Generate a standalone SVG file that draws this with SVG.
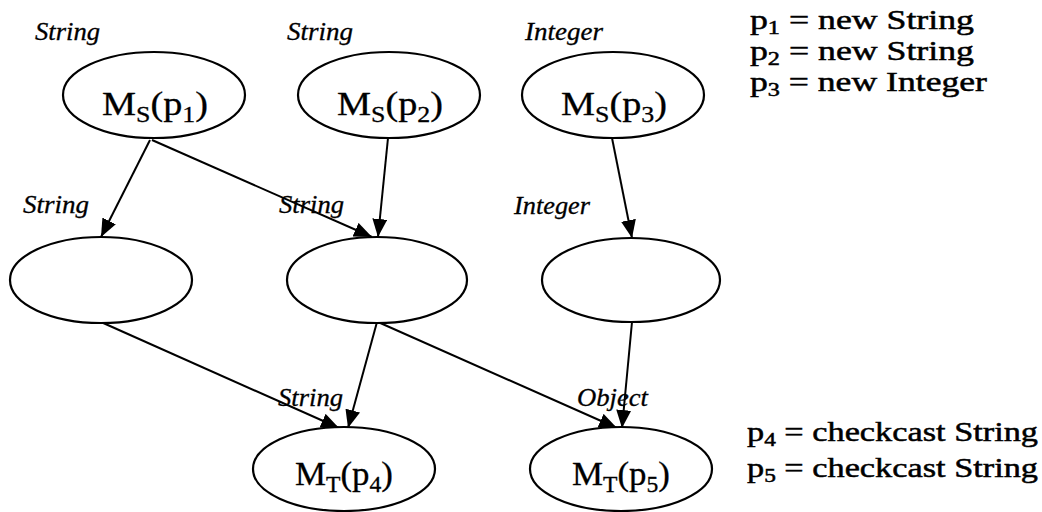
<svg xmlns="http://www.w3.org/2000/svg" width="1042" height="512" viewBox="0 0 1042 512">
<style>
.node ellipse{fill:#fff;stroke:#000;stroke-width:2.2}
.lbl{font-family:"Liberation Serif","Times New Roman",serif;font-style:italic;font-size:25px;fill:#000;stroke:#000;stroke-width:0.3}
.nt{font-family:"Liberation Serif","Times New Roman",serif;font-size:34px;fill:#000;stroke:#000;stroke-width:0.3}
.sub{font-size:23px}
.rt{font-family:"Liberation Serif","Times New Roman",serif;font-size:28px;fill:#000;stroke:#000;stroke-width:0.5}
.rsub{font-size:19px}
.edges line{stroke:#000;stroke-width:2;fill:none}
</style>
<defs>
<marker id="ah" markerUnits="userSpaceOnUse" markerWidth="19" markerHeight="16" refX="18" refY="7.5" orient="auto">
<path d="M0,0 L18,7.5 L0,15 Z" fill="#000"/>
</marker>
</defs>
<rect width="1042" height="512" fill="#fff"/>
<g class="edges">
<line x1="150" y1="140" x2="101" y2="237" marker-end="url(#ah)"/>
<line x1="152" y1="140" x2="372" y2="237" marker-end="url(#ah)"/>
<line x1="388" y1="138" x2="378" y2="237" marker-end="url(#ah)"/>
<line x1="612" y1="138" x2="632" y2="238" marker-end="url(#ah)"/>
<line x1="101" y1="322" x2="339" y2="428" marker-end="url(#ah)"/>
<line x1="377" y1="322" x2="348" y2="428" marker-end="url(#ah)"/>
<line x1="378" y1="322" x2="617" y2="428" marker-end="url(#ah)"/>
<line x1="632" y1="322" x2="622" y2="428" marker-end="url(#ah)"/>
</g>
<g id="ms1" class="node"><ellipse cx="154" cy="95" rx="91" ry="43"/><text class="nt" x="102" y="115" textLength="106" lengthAdjust="spacingAndGlyphs">M<tspan class="sub" dy="7">S</tspan><tspan dy="-7">(p</tspan><tspan class="sub" dy="7">1</tspan><tspan dy="-7">)</tspan></text></g>
<g id="ms2" class="node"><ellipse cx="389" cy="95" rx="91" ry="43"/><text class="nt" x="337" y="115" textLength="106" lengthAdjust="spacingAndGlyphs">M<tspan class="sub" dy="7">S</tspan><tspan dy="-7">(p</tspan><tspan class="sub" dy="7">2</tspan><tspan dy="-7">)</tspan></text></g>
<g id="ms3" class="node"><ellipse cx="613" cy="95" rx="91" ry="43"/><text class="nt" x="561" y="115" textLength="106" lengthAdjust="spacingAndGlyphs">M<tspan class="sub" dy="7">S</tspan><tspan dy="-7">(p</tspan><tspan class="sub" dy="7">3</tspan><tspan dy="-7">)</tspan></text></g>
<g id="n4" class="node"><ellipse cx="101" cy="280" rx="91" ry="43"/></g>
<g id="n5" class="node"><ellipse cx="377" cy="280" rx="90" ry="43"/></g>
<g id="n6" class="node"><ellipse cx="631" cy="280" rx="89" ry="42"/></g>
<g id="mt4" class="node"><ellipse cx="344" cy="469" rx="91" ry="42"/><text class="nt" x="295" y="485" textLength="98" lengthAdjust="spacingAndGlyphs">M<tspan class="sub" dy="7">T</tspan><tspan dy="-7">(p</tspan><tspan class="sub" dy="7">4</tspan><tspan dy="-7">)</tspan></text></g>
<g id="mt5" class="node"><ellipse cx="621" cy="469" rx="91" ry="42"/><text class="nt" x="572" y="485" textLength="98" lengthAdjust="spacingAndGlyphs">M<tspan class="sub" dy="7">T</tspan><tspan dy="-7">(p</tspan><tspan class="sub" dy="7">5</tspan><tspan dy="-7">)</tspan></text></g>
<g id="labels">
<text class="lbl" x="35" y="40" textLength="65" lengthAdjust="spacingAndGlyphs">String</text>
<text class="lbl" x="287" y="40" textLength="66" lengthAdjust="spacingAndGlyphs">String</text>
<text class="lbl" x="525" y="40" textLength="78" lengthAdjust="spacingAndGlyphs">Integer</text>
<text class="lbl" x="23" y="213" textLength="66" lengthAdjust="spacingAndGlyphs">String</text>
<text class="lbl" x="279" y="213" textLength="65" lengthAdjust="spacingAndGlyphs">String</text>
<text class="lbl" x="514" y="214" textLength="76" lengthAdjust="spacingAndGlyphs">Integer</text>
<text class="lbl" x="278" y="406" textLength="65" lengthAdjust="spacingAndGlyphs">String</text>
<text class="lbl" x="577" y="406" textLength="71" lengthAdjust="spacingAndGlyphs">Object</text>
</g>
<g id="legend">
<text class="rt" x="750" y="29" textLength="224" lengthAdjust="spacingAndGlyphs">p<tspan class="rsub" dy="5">1</tspan><tspan dy="-5"> = new String</tspan></text>
<text class="rt" x="750" y="60" textLength="224" lengthAdjust="spacingAndGlyphs">p<tspan class="rsub" dy="5">2</tspan><tspan dy="-5"> = new String</tspan></text>
<text class="rt" x="750" y="91" textLength="237" lengthAdjust="spacingAndGlyphs">p<tspan class="rsub" dy="5">3</tspan><tspan dy="-5"> = new Integer</tspan></text>
<text class="rt" x="747" y="441" textLength="291" lengthAdjust="spacingAndGlyphs">p<tspan class="rsub" dy="5">4</tspan><tspan dy="-5"> = checkcast String</tspan></text>
<text class="rt" x="747" y="477" textLength="291" lengthAdjust="spacingAndGlyphs">p<tspan class="rsub" dy="5">5</tspan><tspan dy="-5"> = checkcast String</tspan></text>
</g>
</svg>
